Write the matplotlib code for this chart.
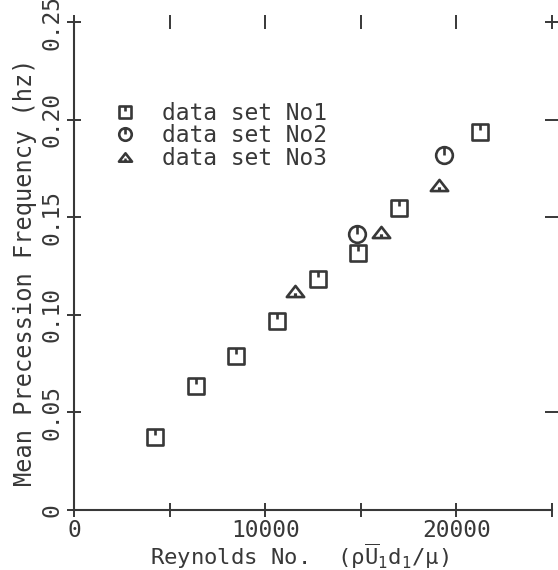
import matplotlib
matplotlib.use("Agg")
import matplotlib.pyplot as plt
from matplotlib.path import Path
import numpy as np

# ---- data ----
set1_re = [4250, 6360, 8490, 10620, 12740, 14850, 16980, 21210]
set1_f = [0.0372, 0.0635, 0.0790, 0.0970, 0.1182, 0.1315, 0.1546, 0.1938]
set2_re = [14820, 19330]
set2_f = [0.1414, 0.1819]
set3_re = [11580, 16040, 19070]
set3_f = [0.1124, 0.1426, 0.1665]
labels = ["data set No1", "data set No2", "data set No3"]
xticks = [0, 5000, 10000, 15000, 20000, 25000]
xticklabels = ["0", "", "10000", "", "20000", ""]
yticks = [0, 0.05, 0.10, 0.15, 0.20, 0.25]
yticklabels = ["0", "0.05", "0.10", "0.15", "0.20", "0.25"]
right_yticks = [0.05, 0.15, 0.20, 0.25]

INK = "#383838"
FS = 16.5
FSL = 17
plt.rcParams["font.family"] = ["DejaVu Sans Mono", "DejaVu Sans"]
plt.rcParams["mathtext.fontset"] = "dejavusans"
plt.rcParams["mathtext.default"] = "regular"

# ---- custom plotter-style markers ----
M, L, C = Path.MOVETO, Path.LINETO, Path.CLOSEPOLY
sq_marker = Path([(-0.5, -0.5), (0.5, -0.5), (0.5, 0.5), (-0.5, 0.5), (-0.5, -0.5),
                  (0, 0.5), (0, 0.1)], [M, L, L, L, C, M, L])
circ = Path.unit_circle()
circ = Path(circ.vertices * 0.5, circ.codes)
circ_marker = Path.make_compound_path(circ, Path([(0, 0.5), (0, 0.0)], [M, L]))
tri_marker = Path([(-0.5, -0.32), (0.5, -0.32), (0, 0.32), (-0.5, -0.32),
                   (-0.09, -0.18), (0.09, -0.18)], [M, L, L, C, M, L])

fig = plt.figure(figsize=(5.58, 5.70), dpi=100)
ax = fig.add_axes([74 / 558, 1 - 510 / 570, 478 / 558, 488 / 570])

common = dict(linestyle="none", markerfacecolor="none", markeredgecolor=INK,
              markeredgewidth=1.9, color=INK)
ax.plot(set1_re, set1_f, marker=sq_marker, markersize=11.5, label=labels[0], **common)
ax.plot(set2_re, set2_f, marker=circ_marker, markersize=12, label=labels[1], **common)
ax.plot(set3_re, set3_f, marker=tri_marker, markersize=12.5, label=labels[2], **common)

ax.set_xlim(0, 25000)
ax.set_ylim(0, 0.25)
ax.set_xticks(xticks)
ax.set_xticklabels(xticklabels, fontsize=FS, color=INK)
ax.set_yticks(yticks)
ax.set_yticklabels(yticklabels, fontsize=FS, color=INK, rotation=90, va="center")

for s in ["top", "right"]:
    ax.spines[s].set_visible(False)
for s in ["left", "bottom"]:
    ax.spines[s].set_color(INK)
    ax.spines[s].set_linewidth(1.5)

ax.tick_params(axis="x", direction="inout", length=9.5, width=1.4, color=INK,
               pad=2, top=True)
ax.tick_params(axis="y", direction="inout", length=9.5, width=1.4, color=INK, pad=3)

ax2 = ax.twinx()
ax2.set_ylim(0, 0.25)
ax2.set_yticks(right_yticks)
ax2.set_yticklabels([])
for s in ax2.spines.values():
    s.set_visible(False)
ax2.tick_params(axis="y", direction="inout", length=9.5, width=1.4, color=INK)

ax.set_xlabel(r"Reynolds No.  $(\rho\overline{U}_1 d_1/\mu)$", fontsize=16, color=INK)
ax.xaxis.set_label_coords(0.472, -0.064)
ax.set_ylabel("Mean Precession Frequency (hz)", fontsize=FSL, color=INK)
ax.yaxis.set_label_coords(-0.077, 0.488)

leg = ax.legend(loc="upper left", bbox_to_anchor=(0.064, 0.855), frameon=False,
                fontsize=FS, labelspacing=-0.02, handlelength=1.0, handletextpad=1.1,
                markerscale=0.75, borderaxespad=0)
for t in leg.get_texts():
    t.set_color(INK)

fig.savefig("out.png", dpi=100, facecolor="white")
